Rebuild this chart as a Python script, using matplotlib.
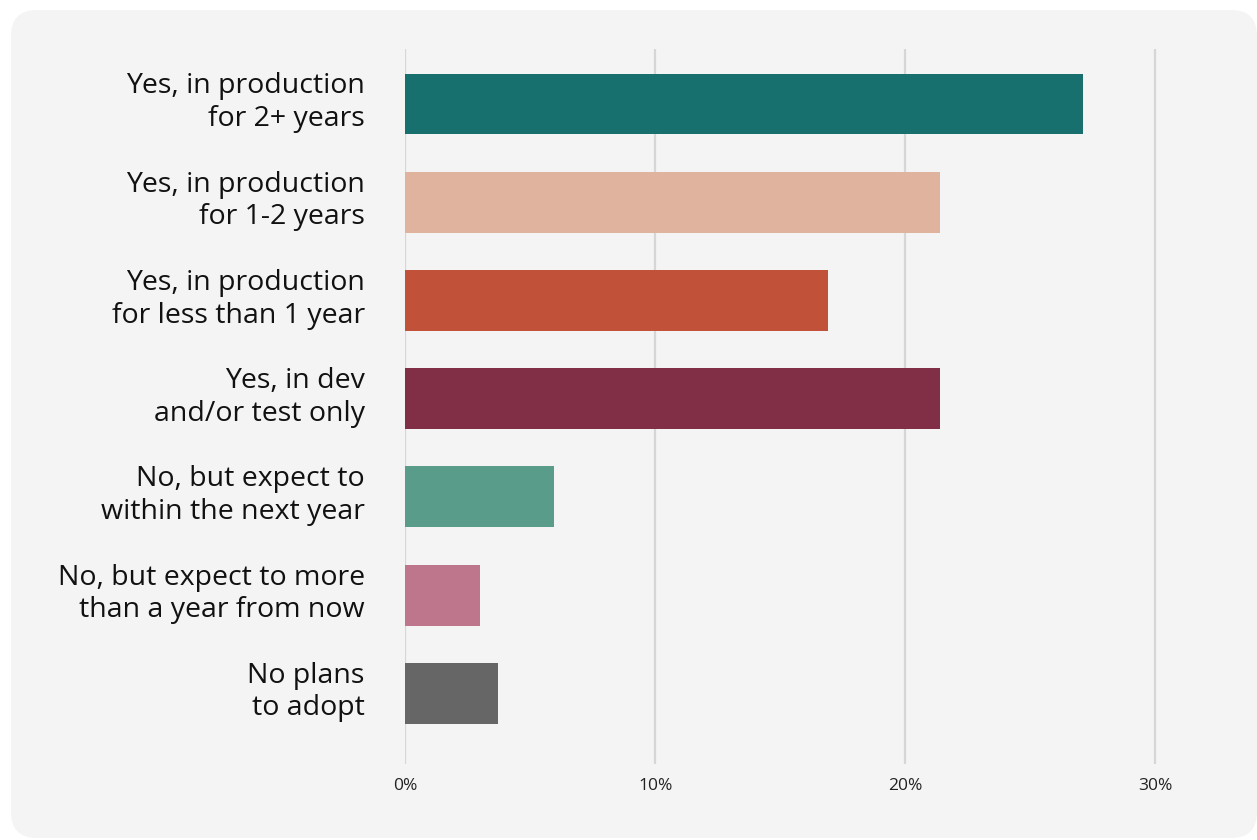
import matplotlib.pyplot as plt
import matplotlib.transforms as mtransforms
from matplotlib.patches import FancyBboxPatch

# survey answers, top to bottom
categories = [
    "Yes, in production\nfor 2+ years",
    "Yes, in production\nfor 1-2 years",
    "Yes, in production\nfor less than 1 year",
    "Yes, in dev\nand/or test only",
    "No, but expect to\nwithin the next year",
    "No, but expect to more\nthan a year from now",
    "No plans\nto adopt",
]
shares = [27.1, 21.4, 16.9, 21.4, 5.95, 3.0, 3.7]
colors = ["#17706e", "#dfb39e", "#c2513a", "#812f47", "#5a9c8a", "#be768c", "#666666"]
xticks = [0, 10, 20, 30]
xtick_labels = ["0%", "10%", "20%", "30%"]

plt.rcParams['font.family'] = ['Open Sans', 'DejaVu Sans']

W, H = 1257, 840
fig = plt.figure(figsize=(W / 100, H / 100), dpi=100)
fig.patch.set_facecolor("white")

# rounded grey card behind the chart, drawn in pixel units
bg = fig.add_axes([0, 0, 1, 1], zorder=-1)
bg.set_xlim(0, W)
bg.set_ylim(H, 0)
bg.axis("off")
bg.add_patch(FancyBboxPatch((11, 10), W - 11, H - 12,
                            boxstyle="round,pad=0,rounding_size=26",
                            facecolor="#f4f4f4", edgecolor="none"))

ax = fig.add_axes([405 / W, 1 - 764 / H, (1243 - 405) / W, (764 - 49) / H])
ax.set_facecolor("none")

pos = list(range(len(categories)))
ax.barh(pos, shares, height=0.62, color=colors, zorder=3)

ax.set_xlim(0, 33.5)
ax.set_ylim(6.72, -0.56)
ax.set_xticks(xticks)
ax.set_xticklabels(xtick_labels, fontsize=12.5, color="#222222")
ax.set_yticks(pos)
ax.set_yticklabels(categories, fontsize=20.5, color="#111111", linespacing=1.22)
ax.tick_params(axis="y", length=0, pad=29)
ax.tick_params(axis="x", length=0, pad=10)
ax.grid(axis="x", color="#d6d6d6", linewidth=1.6, zorder=0)
for s in ax.spines.values():
    s.set_visible(False)

# nudge the category labels up a little so they sit centred on the bars
lift = mtransforms.ScaledTranslation(0, 7 / 100, fig.dpi_scale_trans)
for lab in ax.get_yticklabels():
    lab.set_transform(lab.get_transform() + lift)

fig.savefig("out.png", dpi=100, facecolor="white")
